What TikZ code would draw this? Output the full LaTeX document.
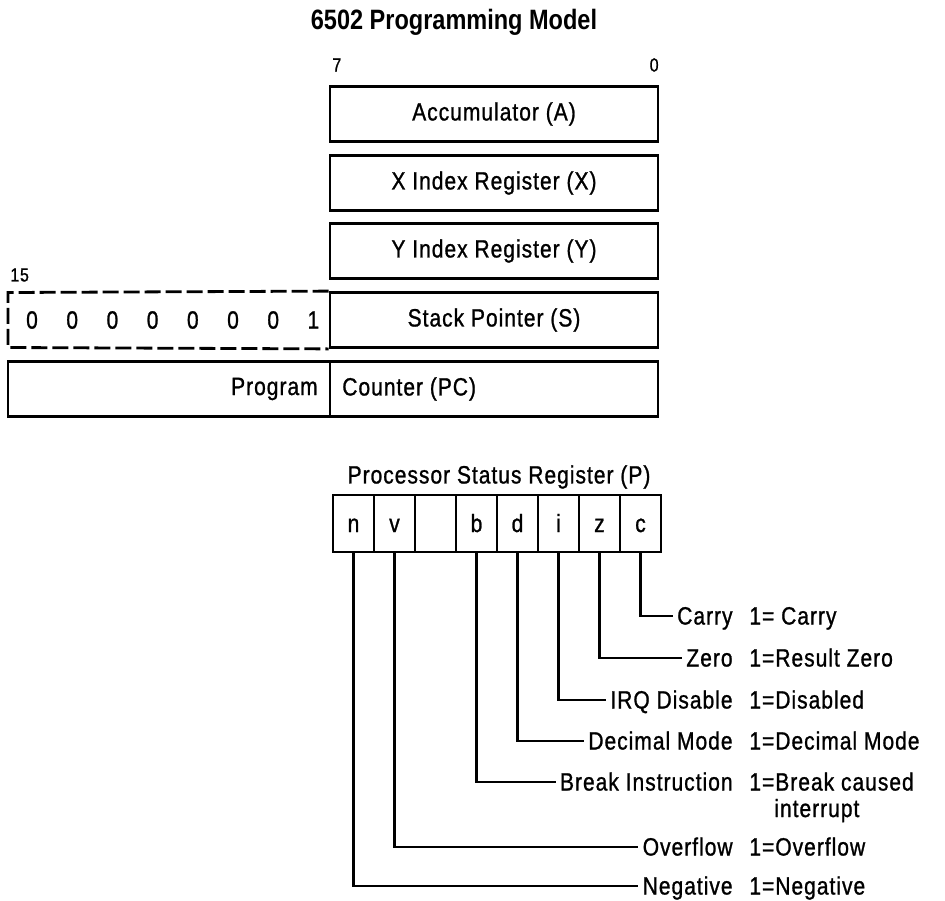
\documentclass[tikz,border=0pt]{standalone}
\usepackage{fontspec}
\setmainfont[FakeStretch=0.84,LetterSpace=4,FakeBold=1]{Liberation Sans}
\newfontfamily\headfont[FakeStretch=0.84]{Liberation Sans}
\begin{document}
\begin{tikzpicture}[x=1pt,y=-1pt,line width=2.8pt,
        txt/.style={font=\fontsize{25}{25}\selectfont},
        reg/.style={txt,draw,minimum width=328pt,minimum height=55pt,inner sep=0pt},
        bit/.style={txt,draw,minimum width=41pt,minimum height=57pt,inner sep=0pt,text height=17pt,text depth=0pt},
        flag/.style={txt,anchor=east,inner sep=3pt,text height=17pt,text depth=0pt},
        meaning/.style={txt,anchor=west,inner sep=0pt,text height=17pt,text depth=0pt},
        small/.style={font=\fontsize{19}{19}\selectfont,inner sep=0pt}]
    \useasboundingbox (0,0) rectangle (945,900);
    \node (title) at (454,22) {\headfont\bfseries\fontsize{28}{28}\selectfont 6502 Programming Model};
    \node[small,anchor=west] (msb) at (331,65) {7};
    \node[small,anchor=east] (lsb) at (660,65) {0};
    \node[small,anchor=west] (msbpc) at (9,275) {15};
    \node[reg] (acc) at (494,114) {Accumulator (A)};
    \node[reg] (xreg) at (494,183) {X Index Register (X)};
    \node[reg] (yreg) at (494,251) {Y Index Register (Y)};
    \node[reg] (sp) at (494,320) {Stack Pointer (S)};
    \draw[dash pattern=on 16pt off 5pt] (sp.north west) -- (8,292.5) -- (8,347.5) -- (sp.south west);
    \foreach \k/\b in {0/0,1/0,2/0,3/0,4/0,5/0,6/0,7/1}
        \node[txt] (page\k) at (32+40.2*\k,320) {\b};
    \node[reg] (pclo) at (494,389) {};
    \node[reg,minimum width=322pt] (pchi) at (169,389) {};
    \node[txt,anchor=east] (pcname) at ([xshift=-9pt]pchi.east) {Program};
    \node[txt,anchor=west] (pcrest) at ([xshift=9pt]pclo.west) {Counter (PC)};
    \node[txt] (pname) at (499,477) {Processor Status Register (P)};
    \foreach \k/\f/\t in {0/n/n,1/v/v,2/u/,3/b/b,4/d/d,5/i/i,6/z/z,7/c/c}
        \node[bit] (\f) at (353.5+41*\k,523.5) {\t};
    \node[flag] (fc) at (737,616) {Carry};
    \node[flag] (fz) at (737,658) {Zero};
    \node[flag] (fi) at (737,700) {IRQ Disable};
    \node[flag] (fd) at (737,741) {Decimal Mode};
    \node[flag] (fb) at (737,782) {Break Instruction};
    \node[flag] (fv) at (737,847) {Overflow};
    \node[flag] (fn) at (737,886) {Negative};
    \node[meaning] (mc) at (748,616) {1= Carry};
    \node[meaning] (mz) at (748,658) {1=Result Zero};
    \node[meaning] (mi) at (748,700) {1=Disabled};
    \node[meaning] (md) at (748,741) {1=Decimal Mode};
    \node[anchor=north west,inner sep=0pt,align=left,font=\fontsize{25}{26.5}\selectfont] (mb) at (748,771)
        {1=Break caused\\\phantom{1=}interrupt};
    \node[meaning] (mv) at (748,847) {1=Overflow};
    \node[meaning] (mn) at (748,886) {1=Negative};
    \draw (c.south) |- (fc.west);
    \draw (z.south) |- (fz.west);
    \draw (i.south) |- (fi.west);
    \draw (d.south) |- (fd.west);
    \draw (b.south) |- (fb.west);
    \draw (v.south) |- (fv.west);
    \draw (n.south) |- (fn.west);
\end{tikzpicture}
\end{document}
